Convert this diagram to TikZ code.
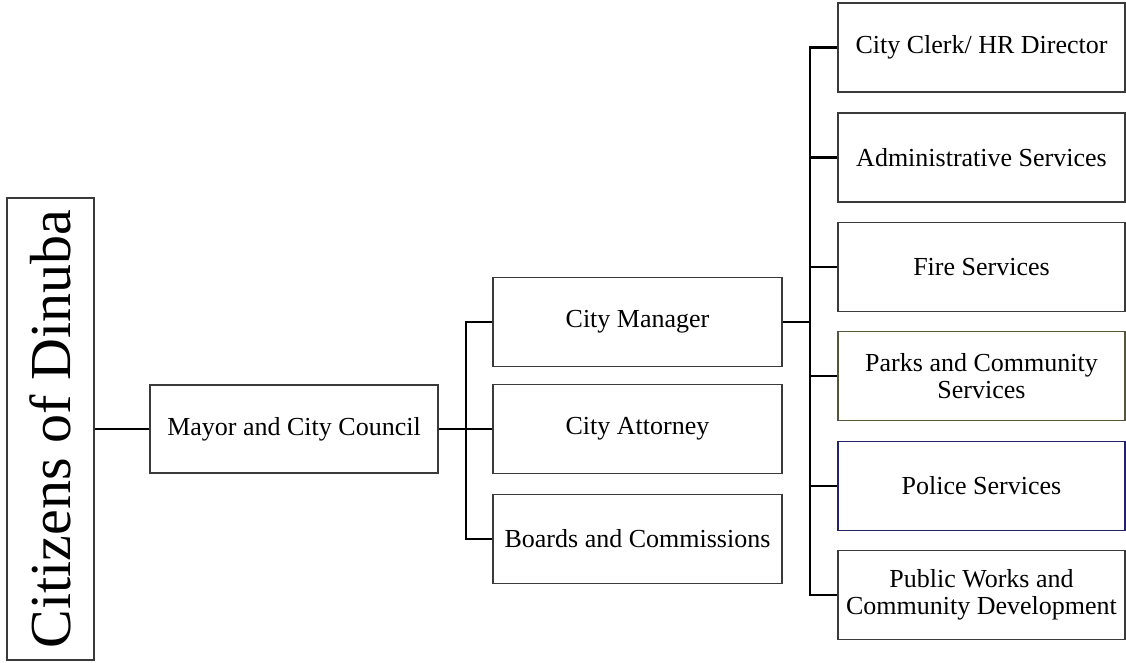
\documentclass[tikz,border=0pt]{standalone}
\usepackage{fontspec}
\setmainfont{Liberation Serif}
\definecolor{boxline}{HTML}{3A3A3A}
\definecolor{olivebox}{HTML}{55553A}
\definecolor{navybox}{HTML}{22226A}
\begin{document}
\begin{tikzpicture}[x=1pt,y=-1pt,
  box/.style={draw=boxline,line width=1.3pt,rectangle,align=center,inner sep=0pt,
    font=\fontsize{26}{27}\selectfont,fill=white},
  midbox/.style={box,minimum width=289,minimum height=89},
  rightbox/.style={box,minimum width=287,minimum height=89},
  conn/.style={draw=black,line width=2.2pt}]
\useasboundingbox[fill=white] (0,0) rectangle (1126,662);
% nodes
\node[box,rotate=90,minimum width=462,minimum height=87,font=\fontsize{58}{60}\selectfont] (cit) at (50.5,429) {Citizens of Dinuba};
\node[box,minimum width=288,minimum height=88] (mayor) at (294,429) {Mayor and City Council};
\node[midbox] (cm) at (637.5,322) {City Manager};
\node[midbox] (ca) at (637.5,429) {City Attorney};
\node[midbox] (bc) at (637.5,539) {Boards and Commissions};
\node[rightbox] (clerk) at (981.5,47.5) {City Clerk/ HR Director};
\node[rightbox] (admin) at (981.5,157.5) {Administrative Services};
\node[rightbox] (fire) at (981.5,267) {Fire Services};
\node[rightbox,draw=olivebox] (parks) at (981.5,376) {Parks and Community\\Services};
\node[rightbox,draw=navybox] (police) at (981.5,486) {Police Services};
\node[rightbox] (pw) at (981.5,595) {Public Works and\\Community Development};
% connectors
\coordinate (b1) at (466,429);
\coordinate (b2) at (810,322);
\draw[conn] (cit.south) -- (mayor.west);
\draw[conn] (mayor.east) -- (b1) -- (ca.west);
\draw[conn] (cm.west) -| (b1) |- (bc.west);
\draw[conn] (cm.east) -- (b2);
\draw[conn] (clerk.west) -| (b2) |- (pw.west);
\draw[conn] (b2 |- admin.west) -- (admin.west);
\draw[conn] (b2 |- fire.west) -- (fire.west);
\draw[conn] (b2 |- parks.west) -- (parks.west);
\draw[conn] (b2 |- police.west) -- (police.west);
\end{tikzpicture}
\end{document}
